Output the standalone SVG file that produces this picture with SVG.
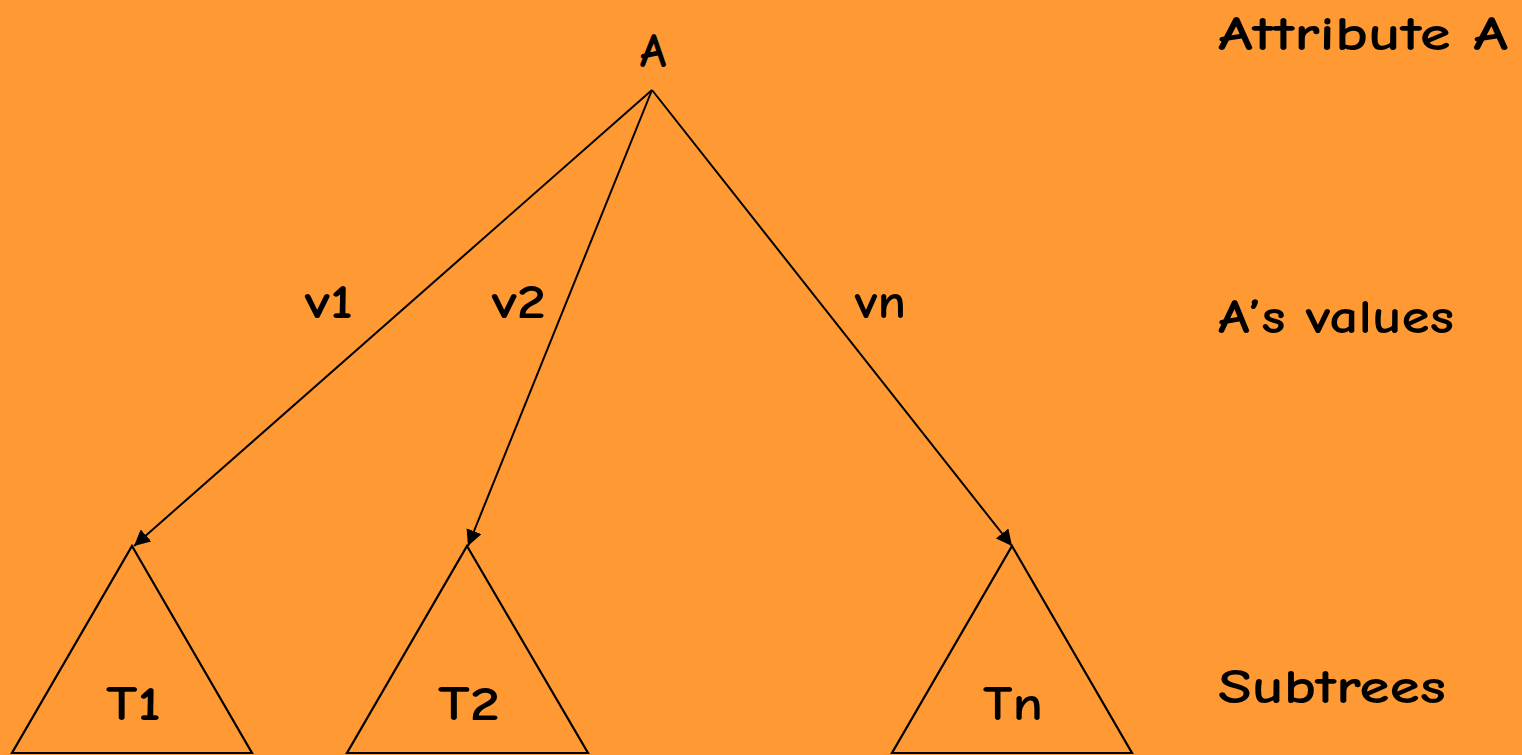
<svg xmlns="http://www.w3.org/2000/svg" width="1522" height="755" viewBox="0 0 1522 755">
<style>
text{font-family:"Comic Neue","Liberation Sans",Arial,sans-serif;font-size:48px;font-weight:700;fill:#000}
.tri{fill:none;stroke:#000;stroke-width:2.2;stroke-linejoin:miter}
.edge{stroke:#000;stroke-width:2;fill:none}
</style>
<defs>
<marker id="ah" viewBox="0 0 10 10" refX="10" refY="5" markerWidth="16" markerHeight="16" markerUnits="userSpaceOnUse" orient="auto">
<path d="M0,0 L10,5 L0,10 z" fill="#000"/>
</marker>
</defs>
<rect width="1522" height="755" fill="#FF9933"/>
<g id="labels">
<text x="1218" y="50" textLength="290" lengthAdjust="spacingAndGlyphs">Attribute A</text>
<text x="1218" y="333" textLength="236" lengthAdjust="spacingAndGlyphs">A’s values</text>
<text x="1218" y="703" textLength="228" lengthAdjust="spacingAndGlyphs">Subtrees</text>
</g>
<g id="root"><text x="653" y="67" text-anchor="middle">A</text></g>
<g id="connectors">
<line class="edge" x1="652" y1="90" x2="134" y2="546" marker-end="url(#ah)"/>
<line class="edge" x1="652" y1="90" x2="468" y2="546" marker-end="url(#ah)"/>
<line class="edge" x1="652" y1="90" x2="1012" y2="546" marker-end="url(#ah)"/>
<text x="305" y="318" textLength="48" lengthAdjust="spacingAndGlyphs">v1</text>
<text x="492" y="318" textLength="54" lengthAdjust="spacingAndGlyphs">v2</text>
<text x="855" y="318" textLength="51" lengthAdjust="spacingAndGlyphs">vn</text>
</g>
<g id="T1">
<polygon class="tri" points="132,546 252,753 12,753"/>
<text x="106" y="720" textLength="55" lengthAdjust="spacingAndGlyphs">T1</text>
</g>
<g id="T2">
<polygon class="tri" points="467,546 588,753 347,753"/>
<text x="438" y="720" textLength="62" lengthAdjust="spacingAndGlyphs">T2</text>
</g>
<g id="Tn">
<polygon class="tri" points="1012,546 1132,753 892,753"/>
<text x="983" y="720" textLength="60" lengthAdjust="spacingAndGlyphs">Tn</text>
</g>
</svg>
